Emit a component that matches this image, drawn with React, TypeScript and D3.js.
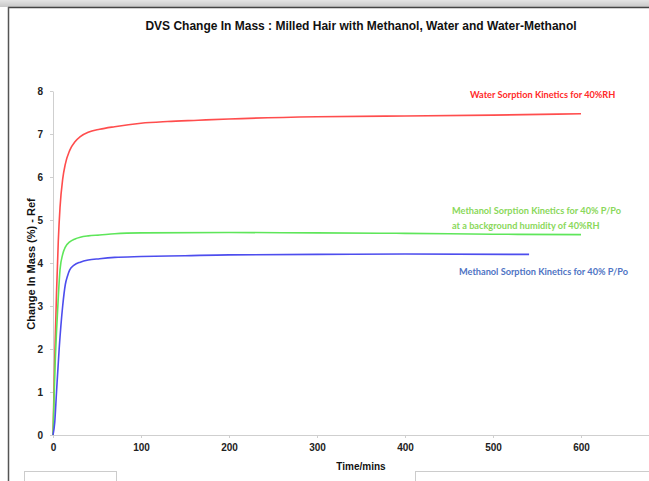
import { useEffect, useRef } from "react";
import * as d3 from "d3";

// series (time in mins, change in mass %)
const waterTime = [0, 1, 2, 4, 6, 8, 11, 14, 19, 25, 31, 40, 53, 70, 100, 130, 165, 200, 300, 400, 500, 600];
const waterMass = [0, 0.9, 1.8, 3.3, 4.5, 5.3, 5.95, 6.3, 6.62, 6.82, 6.94, 7.04, 7.11, 7.17, 7.25, 7.29, 7.32, 7.35, 7.4, 7.42, 7.44, 7.47];

const mixTime = [0, 1, 2, 4, 6, 8, 11, 14, 19, 25, 31, 40, 53, 70, 100, 200, 300, 400, 500, 600];
const mixMass = [0, 0.7, 1.4, 2.4, 3.2, 3.85, 4.2, 4.37, 4.49, 4.56, 4.6, 4.63, 4.65, 4.68, 4.7, 4.71, 4.7, 4.69, 4.67, 4.66];

const methTime = [0, 2, 4, 7, 11, 14, 16.5, 19, 24, 31, 40, 53, 70, 100, 150, 200, 300, 400, 541];
const methMass = [0, 0.3, 1.0, 2.0, 3.0, 3.5, 3.7, 3.84, 3.95, 4.02, 4.07, 4.1, 4.13, 4.15, 4.17, 4.19, 4.2, 4.21, 4.2];

const xTicks = [0, 100, 200, 300, 400, 500, 600];
const yTicks = [0, 1, 2, 3, 4, 5, 6, 7, 8];

const series = [
  { time: waterTime, mass: waterMass, color: "#ff4d4d" },
  { time: mixTime, mass: mixMass, color: "#5ee65a" },
  { time: methTime, mass: methMass, color: "#4d4dee" },
];

export default function App() {
  const ref = useRef<SVGSVGElement>(null);

  useEffect(() => {
    const svg = d3.select(ref.current);
    svg.selectAll("*").remove();

    // page frame
    const defs = svg.append("defs");
    const grad = defs.append("linearGradient").attr("id", "topfade").attr("x1", 0).attr("y1", 0).attr("x2", 0).attr("y2", 1);
    grad.append("stop").attr("offset", "0%").attr("stop-color", "#e4e4e4");
    grad.append("stop").attr("offset", "100%").attr("stop-color", "#c8c8c8");
    svg.append("rect").attr("x", 0).attr("y", 0).attr("width", 649).attr("height", 7).attr("fill", "url(#topfade)");
    svg.append("line").attr("x1", 8).attr("x2", 649).attr("y1", 7.5).attr("y2", 7.5).attr("stroke", "#444").attr("stroke-width", 1.5);
    svg.append("line").attr("x1", 8.5).attr("x2", 8.5).attr("y1", 7).attr("y2", 481).attr("stroke", "#555").attr("stroke-width", 1.5);
    svg.append("rect").attr("x", 24.5).attr("y", 471.5).attr("width", 92).attr("height", 20).attr("fill", "none").attr("stroke", "#ccc");
    svg.append("rect").attr("x", 415.5).attr("y", 471.5).attr("width", 240).attr("height", 20).attr("fill", "none").attr("stroke", "#ccc");

    const xScale = d3.scaleLinear().domain([0, 600]).range([53, 581]);
    const yScale = d3.scaleLinear().domain([0, 8]).range([435, 91]);

    // title
    svg.append("text")
      .attr("x", 361)
      .attr("y", 30)
      .attr("text-anchor", "middle")
      .attr("font-family", "Liberation Sans, Arial, sans-serif")
      .attr("font-weight", "bold")
      .style("font-size", "12px")
      .attr("fill", "#111")
      .text("DVS Change In Mass : Milled Hair with Methanol, Water and Water-Methanol");

    // x-axis
    const xAxis = svg.append("g")
      .attr("transform", "translate(0,435)")
      .call(d3.axisBottom(xScale).tickValues(xTicks).tickSize(3).tickSizeOuter(0).tickPadding(6));
    xAxis.select(".domain").remove();
    svg.append("line").attr("x1", 53).attr("x2", 649).attr("y1", 435.5).attr("y2", 435.5).attr("stroke", "#cfcfcf");
    xAxis.selectAll("line").attr("stroke", "#cfcfcf");
    xAxis.selectAll("text")
      .attr("font-family", "Liberation Sans, Arial, sans-serif")
      .attr("font-weight", "bold")
      .style("font-size", "10px")
      .attr("fill", "#222");

    svg.append("text")
      .attr("x", 361)
      .attr("y", 470)
      .attr("text-anchor", "middle")
      .attr("font-family", "Liberation Sans, Arial, sans-serif")
      .attr("font-weight", "bold")
      .style("font-size", "10px")
      .attr("fill", "#111")
      .text("Time/mins");

    // y-axis
    const yAxis = svg.append("g")
      .attr("transform", "translate(53,0)")
      .call(d3.axisLeft(yScale).tickValues(yTicks).tickSize(3).tickSizeOuter(0).tickPadding(7));
    yAxis.select(".domain").attr("stroke", "#cfcfcf");
    yAxis.selectAll("line").attr("stroke", "#cfcfcf");
    yAxis.selectAll("text")
      .attr("font-family", "Liberation Sans, Arial, sans-serif")
      .attr("font-weight", "bold")
      .style("font-size", "10px")
      .attr("fill", "#222");

    svg.append("text")
      .attr("transform", "rotate(-90)")
      .attr("x", -264)
      .attr("y", 35)
      .attr("text-anchor", "middle")
      .attr("font-family", "Liberation Sans, Arial, sans-serif")
      .attr("font-weight", "bold")
      .style("font-size", "11px")
      .attr("fill", "#111")
      .text("Change In Mass (%) - Ref");

    // curves
    series.forEach(s => {
      const pts = s.time.map((t, i) => [t, s.mass[i]] as [number, number]);
      const line = d3.line<[number, number]>()
        .x(d => xScale(d[0]))
        .y(d => yScale(d[1]))
        .curve(d3.curveMonotoneX);
      svg.append("path")
        .attr("d", line(pts))
        .attr("fill", "none")
        .attr("stroke", s.color)
        .attr("stroke-width", 1.6);
    });

    // annotations
    const note = (x: number, y: number, color: string, txt: string) =>
      svg.append("text")
        .attr("x", x)
        .attr("y", y)
        .attr("font-family", "Lato, Open Sans, sans-serif")
        .attr("font-weight", "bold")
        .style("font-size", "9.2px")
        .attr("fill", color)
        .text(txt);
    note(470, 98, "#ff2a2a", "Water Sorption Kinetics for 40%RH");
    note(452, 214, "#8ad85a", "Methanol Sorption Kinetics for 40% P/Po");
    note(452, 229, "#8ad85a", "at a background humidity of 40%RH");
    note(459, 275, "#4f74c4", "Methanol Sorption Kinetics for 40% P/Po");
  }, []);

  return (
    <svg
      ref={ref}
      width={649}
      height={481}
      style={{ position: "absolute", left: 0, top: 0, background: "#fff" }}
    />
  );
}
